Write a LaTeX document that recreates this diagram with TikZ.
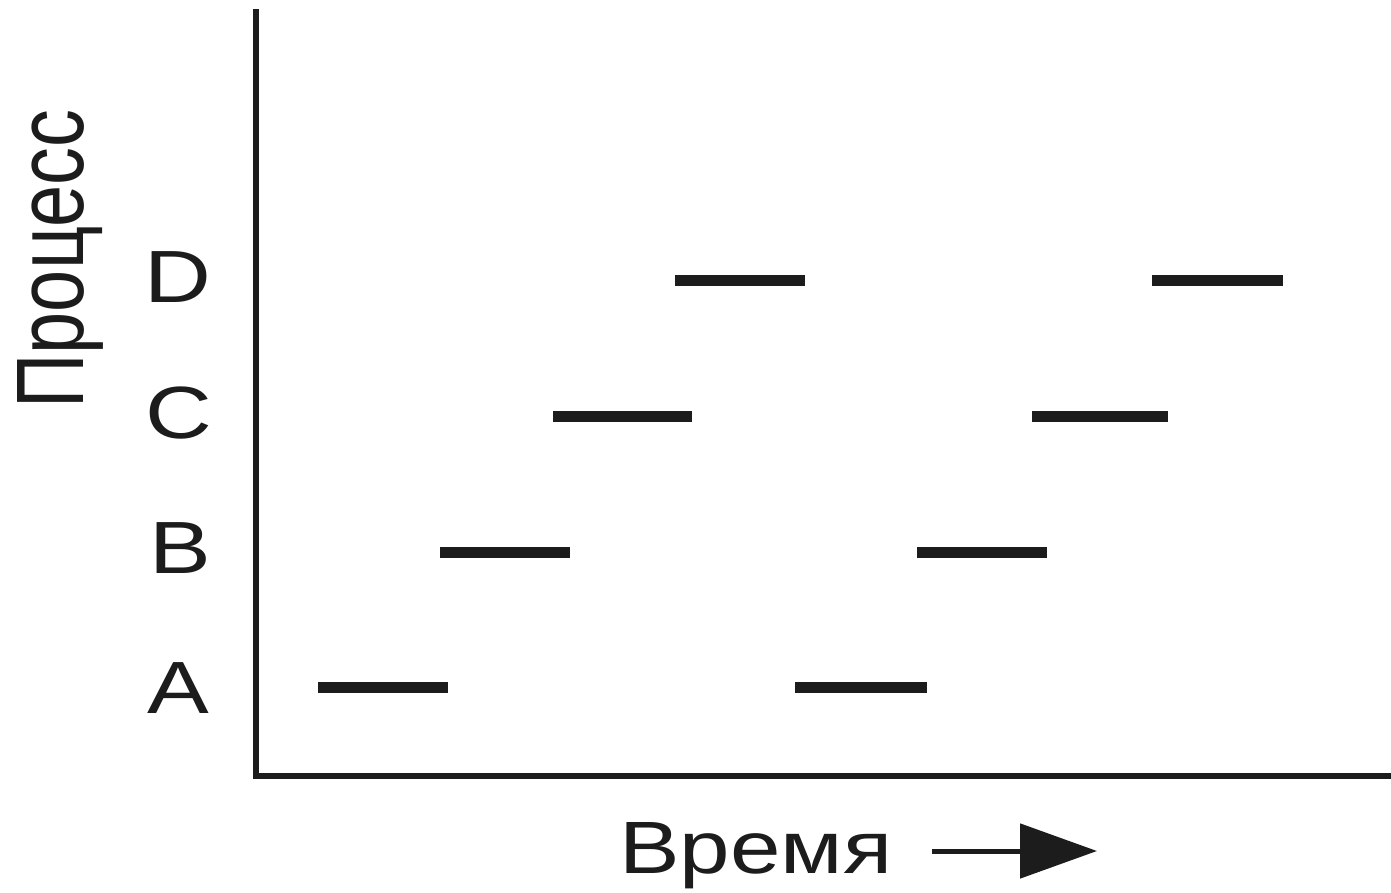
\documentclass[tikz,border=0pt]{standalone}
\usepackage{fontspec}
\usepackage{graphicx}
\setmainfont{Liberation Sans}
\usetikzlibrary{arrows.meta}
\definecolor{ink}{RGB}{28,28,28}
\tikzset{
  axisline/.style={draw=ink, line width=2.6pt},
  bar/.style={draw=ink, line width=5.5pt},
  rowlabel/.style={inner sep=0pt, text=ink, font=\fontsize{37}{37}\selectfont},
  axlabel/.style={inner sep=0pt, text=ink},
}
\begin{document}
\begin{tikzpicture}[x=0.5pt,y=-0.5pt]
\useasboundingbox (0,0) rectangle (1391,893);
\fill[white] (0,0) rectangle (1391,893);
% axes
\coordinate (top) at (256,9);
\coordinate (origin) at (256,776);
\coordinate (right) at (1391,776);
\draw[axisline] (top) -- (origin) -- (right);
% row labels
\node[rowlabel] (lD) at (178,277) {\scalebox{1.25}[1]{D}};
\node[rowlabel] (lC) at (179,413) {\scalebox{1.25}[1]{C}};
\node[rowlabel] (lB) at (180,548) {\scalebox{1.25}[1]{B}};
\node[rowlabel] (lA) at (178,688) {\scalebox{1.25}[1]{A}};
% axis titles
\node[axlabel, rotate=90, anchor=base west] (yl) at (83,409)
  {\fontsize{46}{46}\selectfont\resizebox{149.5pt}{33pt}{Процесс}};
\node[axlabel, anchor=base west] (xl) at (619,873)
  {\fontsize{36}{36}\selectfont\resizebox{136.5pt}{25.5pt}{Время}};
\coordinate (as) at (932,851);
\coordinate (ae) at (1097,851);
\draw[draw=ink, line width=2.5pt, -{Triangle[length=38.5pt,width=27pt]}] (as) -- (ae);
% bars
\draw[bar] (318,687) -- (448,687);
\draw[bar] (795,687) -- (927,687);
\draw[bar] (440,552) -- (570,552);
\draw[bar] (917,552) -- (1047,552);
\draw[bar] (553,416) -- (692,416);
\draw[bar] (1032,416) -- (1168,416);
\draw[bar] (675,280) -- (805,280);
\draw[bar] (1152,280) -- (1283,280);
\end{tikzpicture}
\end{document}
